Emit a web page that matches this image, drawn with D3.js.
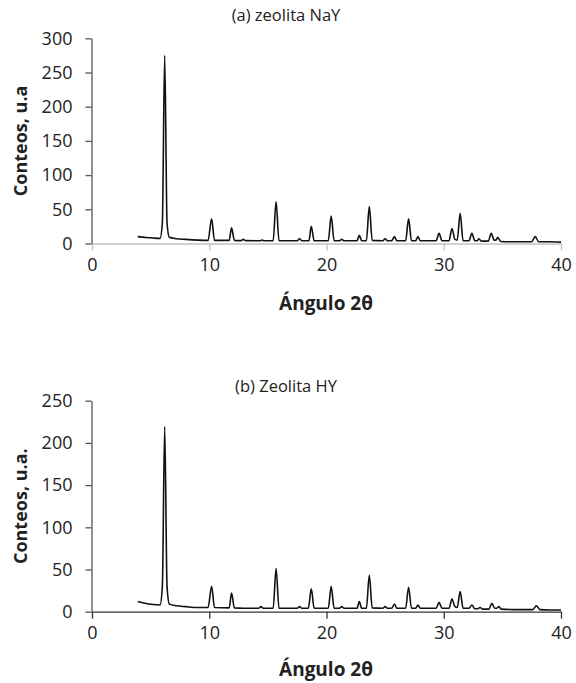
<!DOCTYPE html>
<html>
<head>
<meta charset="utf-8">
<script src="https://cdn.jsdelivr.net/npm/d3@7"></script>
<style>
  body { margin: 0; background: #fff; }
  text { font-family: "Open Sans", sans-serif; fill: #222; }
</style>
</head>
<body>
<svg></svg>
<script>
// patterns: [2θ, counts]
const nayPattern = [
  [3.9, 10], [4.5, 9], [5.2, 8], [5.8, 7.5], [6.0, 30], [6.2, 275], [6.4, 30], [6.6, 9],
  [7.2, 7], [8.0, 6], [9.0, 5], [9.9, 4.5], [10.2, 36], [10.45, 4.5],
  [11.7, 4.5], [11.9, 23], [12.15, 4.5], [12.7, 4.2], [12.9, 6], [13.1, 4.2],
  [14.3, 4], [14.5, 5], [14.7, 4], [15.45, 4], [15.7, 61], [15.95, 4],
  [17.5, 4], [17.7, 7], [17.9, 4], [18.5, 4], [18.7, 25], [18.95, 4],
  [20.15, 4], [20.4, 40], [20.65, 4], [21.1, 4], [21.3, 6], [21.5, 4],
  [22.6, 4], [22.8, 12], [23.0, 4], [23.4, 4], [23.65, 54], [23.9, 4.5],
  [24.8, 4], [25.0, 7], [25.2, 4], [25.55, 4], [25.8, 10], [26.0, 4],
  [26.75, 4], [27.0, 36], [27.25, 4], [27.6, 4], [27.8, 10], [28.0, 4],
  [29.35, 4], [29.6, 15], [29.85, 4], [30.45, 4], [30.7, 22], [30.95, 6],
  [31.15, 5], [31.4, 44], [31.65, 4], [32.15, 4], [32.4, 15], [32.65, 4],
  [32.85, 4], [33.0, 7], [33.2, 3.5], [33.8, 3.5], [34.05, 15], [34.3, 5],
  [34.45, 5], [34.6, 9], [34.85, 3], [36.0, 2.5], [37.5, 2.5], [37.8, 10],
  [38.1, 2.5], [39.0, 2.5], [40.0, 2]
];

const hyPattern = [
  [3.9, 12], [4.5, 10], [5.2, 8.5], [5.8, 8], [6.0, 30], [6.2, 219], [6.4, 30], [6.6, 9],
  [7.2, 7], [8.0, 6], [9.0, 5], [9.9, 5], [10.2, 30], [10.45, 5],
  [11.7, 4.5], [11.9, 22], [12.15, 4.5], [12.9, 4], [14.2, 4], [14.4, 6], [14.6, 4],
  [15.45, 4], [15.7, 51], [15.95, 4], [17.5, 4], [17.7, 6], [17.9, 4],
  [18.45, 4], [18.7, 27], [18.95, 4], [20.15, 4], [20.4, 30], [20.65, 4],
  [21.1, 4], [21.3, 6], [21.5, 4], [22.6, 4], [22.8, 12], [23.0, 4],
  [23.4, 4], [23.65, 43], [23.9, 4.5], [24.8, 4], [25.0, 6], [25.2, 4],
  [25.55, 4], [25.8, 9], [26.0, 4], [26.75, 4], [27.0, 29], [27.25, 4],
  [27.6, 4], [27.8, 8], [28.0, 4], [29.35, 4], [29.6, 11], [29.85, 4],
  [30.45, 4], [30.7, 15], [30.95, 6], [31.15, 5], [31.4, 24], [31.65, 4],
  [32.15, 4], [32.4, 8], [32.65, 3.5], [32.9, 3.5], [33.1, 5], [33.3, 3],
  [33.85, 3], [34.1, 10], [34.35, 4], [34.5, 4], [34.7, 6], [34.9, 3],
  [36.0, 2.5], [37.6, 2.5], [37.9, 7], [38.2, 2.5], [39.0, 2], [40.0, 2]
];

const xTicks = [0, 10, 20, 30, 40];
const nayYTicks = [0, 50, 100, 150, 200, 250, 300];
const hyYTicks = [0, 50, 100, 150, 200, 250];

const svg = d3.select('svg')
    .attr('width', 576)
    .attr('height', 683);

const panels = [
  { title: '(a) zeolita NaY', yLabel: 'Conteos, u.a', data: nayPattern, yTicks: nayYTicks,
    yMax: 300, top: 38.3, bottom: 243.5, titleY: 21, xTitleY: 310, xAxisColor: '#c0c0c0' },
  { title: '(b) Zeolita HY', yLabel: 'Conteos, u.a.', data: hyPattern, yTicks: hyYTicks,
    yMax: 250, top: 400.7, bottom: 611.7, titleY: 392, xTitleY: 676, xAxisColor: '#333' }
];

panels.forEach(p => {
  const x = d3.scaleLinear().domain([0, 40]).range([92, 561]);
  const y = d3.scaleLinear().domain([0, p.yMax]).range([p.bottom, p.top]);
  const g = svg.append('g');

  // x axis
  const xAxis = g.append('g')
      .attr('transform', `translate(0,${p.bottom})`)
      .call(d3.axisBottom(x).tickValues(xTicks).tickSize(7).tickSizeOuter(0).tickPadding(8));
  xAxis.select('.domain').attr('stroke', p.xAxisColor).attr('stroke-width', 1.3);
  xAxis.selectAll('.tick line').attr('stroke', p.xAxisColor).attr('stroke-width', 1.3);
  xAxis.selectAll('text').style('font-size', '18px').attr('fill', '#222');

  // y axis
  const yAxis = g.append('g')
      .attr('transform', 'translate(91.5,0)')
      .call(d3.axisLeft(y).tickValues(p.yTicks).tickSize(6).tickSizeOuter(0).tickPadding(13));
  yAxis.select('.domain').attr('stroke', '#555').attr('stroke-width', 1.3);
  yAxis.selectAll('.tick line').attr('stroke', '#555').attr('stroke-width', 1.3);
  yAxis.selectAll('text').style('font-size', '18px').attr('fill', '#222');

  // pattern line
  g.append('path')
      .datum(p.data)
      .attr('fill', 'none')
      .attr('stroke', '#111')
      .attr('stroke-width', 1.6)
      .attr('stroke-linejoin', 'round')
      .attr('d', d3.line()
          .x(d => x(d[0]))
          .y(d => y(d[1]))
          .curve(d3.curveMonotoneX));

  g.append('text')
      .attr('x', 286).attr('y', p.titleY)
      .attr('text-anchor', 'middle')
      .style('font-size', '16.5px')
      .text(p.title);

  g.append('text')
      .attr('x', 326).attr('y', p.xTitleY)
      .attr('text-anchor', 'middle')
      .style('font-size', '19px')
      .style('font-weight', 'bold')
      .text('Ángulo 2θ');

  g.append('text')
      .attr('transform', `translate(27,${(p.top + p.bottom) / 2}) rotate(-90)`)
      .attr('text-anchor', 'middle')
      .style('font-size', '18px')
      .style('font-weight', 'bold')
      .text(p.yLabel);
});
</script>
</body>
</html>
